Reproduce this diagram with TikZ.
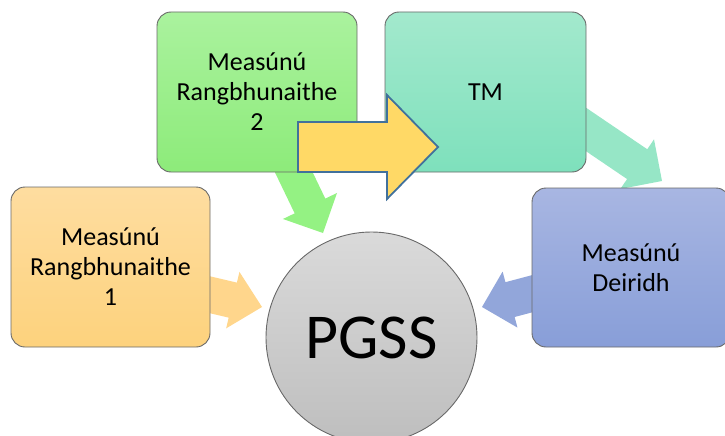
\documentclass[tikz,border=0pt]{standalone}
\usepackage{fontspec}
\setmainfont{Carlito}
\usetikzlibrary{calc}
\definecolor{boxline}{RGB}{105,105,105}
\definecolor{oT}{RGB}{254,221,160}\definecolor{oB}{RGB}{253,210,125}
\definecolor{gT}{RGB}{170,242,158}\definecolor{gB}{RGB}{141,235,122}
\definecolor{tT}{RGB}{163,233,205}\definecolor{tB}{RGB}{126,224,188}
\definecolor{bT}{RGB}{168,182,226}\definecolor{bB}{RGB}{136,158,216}
\definecolor{cT}{RGB}{218,218,218}\definecolor{cB}{RGB}{190,190,190}
\definecolor{arrO}{RGB}{255,214,140}
\definecolor{arrG}{RGB}{148,242,131}
\definecolor{arrT}{RGB}{150,230,198}
\definecolor{arrB}{RGB}{146,166,218}
\definecolor{bigF}{RGB}{255,217,102}
\definecolor{bigL}{RGB}{65,113,156}
% #1 start, #2 tip, #3 half shaft, #4 half head, #5 head length, #6 style
\newcommand\fatarrow[6]{%
  \coordinate (fa-h) at ($(#2)!#5!(#1)$);
  \path[#6] ($(#1)!#3!90:(#2)$) -- ($(fa-h)!#3!-90:(#1)$) -- ($(fa-h)!#4!-90:(#1)$)
    -- (#2) -- ($(fa-h)!#4!90:(#1)$) -- ($(fa-h)!#3!90:(#1)$) -- ($(#1)!#3!-90:(#2)$) -- cycle;
}
\tikzset{
  stagebox/.style={rounded corners=14pt, draw=boxline, line width=0.9pt,
    align=center, inner sep=0pt, font=\fontsize{26}{30}\selectfont},
  smallarrow/.style={fill=#1},
}
\begin{document}
\begin{tikzpicture}[x=1pt,y=-1pt]
\useasboundingbox (0,0) rectangle (725,436);
% connector end points
\coordinate (oA) at (194,291); \coordinate (oZ) at (262,307);
\coordinate (gA) at (284,152); \coordinate (gZ) at (323,233);
\coordinate (tA) at (575,122); \coordinate (tZ) at (662,181);
\coordinate (bA) at (550,289); \coordinate (bZ) at (482,307);
% small block arrows (behind boxes)
\fatarrow{oA}{oZ}{18pt}{29pt}{30pt}{smallarrow=arrO}
\fatarrow{gA}{gZ}{17pt}{30pt}{30pt}{smallarrow=arrG}
\fatarrow{tA}{tZ}{18pt}{30pt}{30pt}{smallarrow=arrT}
\fatarrow{bA}{bZ}{18pt}{29pt}{29pt}{smallarrow=arrB}
% boxes
\node[stagebox, top color=oT, bottom color=oB, minimum width=199pt, minimum height=160pt]
  (r1) at (110.5,267) {Measúnú\\Rangbhunaithe\\1};
\node[stagebox, top color=gT, bottom color=gB, minimum width=200pt, minimum height=160pt]
  (r2) at (257,92) {Measúnú\\Rangbhunaithe\\2};
\node[stagebox, top color=tT, bottom color=tB, minimum width=201pt, minimum height=160pt]
  (tm) at (485.5,92) {TM};
\node[stagebox, top color=bT, bottom color=bB, minimum width=198pt, minimum height=159pt]
  (md) at (631,267.5) {Measúnú\\Deiridh};
% central circle
\node[circle, draw=boxline, line width=0.9pt, top color=cT, bottom color=cB,
  minimum size=211pt, inner sep=0pt, font=\fontsize{64}{70}\selectfont]
  (pgss) at (371.5,337.5) {PGSS};
% big yellow arrow from r2 to tm
\coordinate (yA) at (298,147); \coordinate (yZ) at (438,147);
\fatarrow{yA}{yZ}{25pt}{52pt}{51pt}{fill=bigF, draw=bigL, line width=1.8pt, line join=miter}
\end{tikzpicture}
\end{document}
